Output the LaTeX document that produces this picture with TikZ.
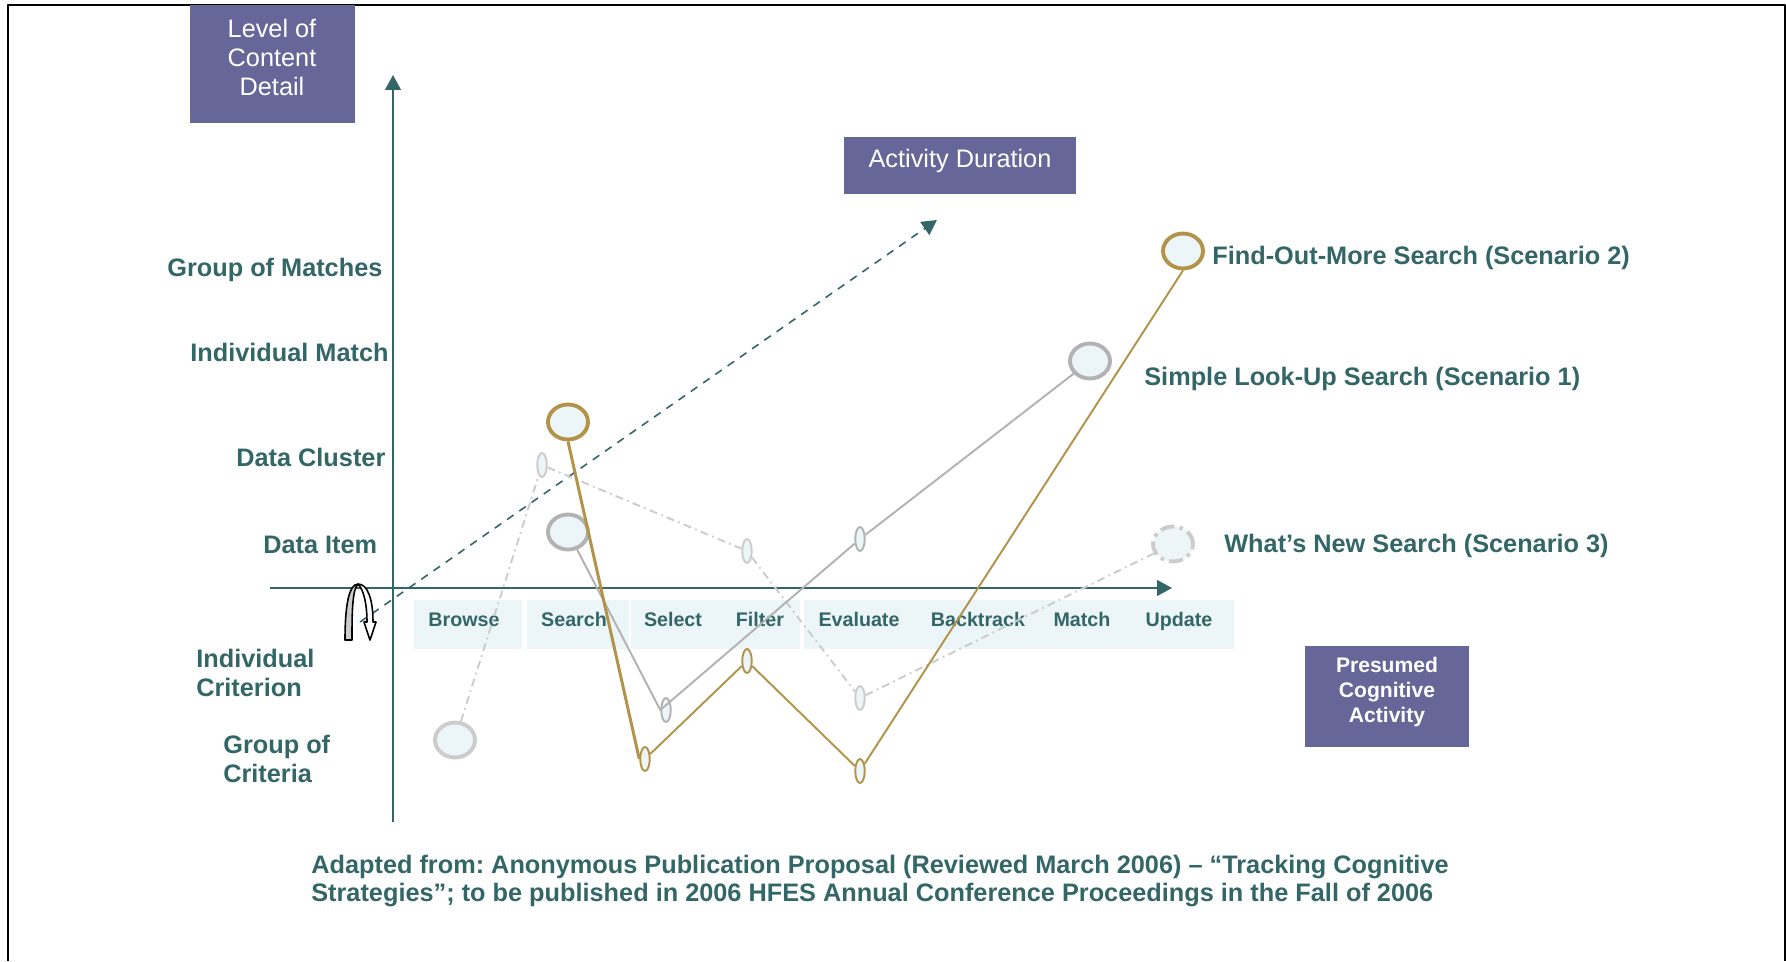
\documentclass[tikz,border=0pt]{standalone}
\usepackage{fontspec}
\setmainfont{Liberation Sans}
\frenchspacing
\usetikzlibrary{arrows.meta,shapes.geometric}
\definecolor{tealc}{HTML}{336666}
\definecolor{purplec}{HTML}{666699}
\definecolor{goldc}{HTML}{B2934A}
\definecolor{grayc}{HTML}{B2B2B2}
\definecolor{lightc}{HTML}{CCCCCC}
\definecolor{paleb}{HTML}{ECF5F7}
\tikzset{
	axislabel/.style={text=tealc,font=\fontsize{14.4}{16.5}\selectfont\bfseries,align=left,anchor=west,inner sep=0pt},
	steplabel/.style={text=tealc,font=\fontsize{11.2}{13}\selectfont\bfseries,inner sep=0pt,text height=0.72em,text depth=0.21em},
	boxlabel/.style={text=white,font=\fontsize{14.4}{16.5}\selectfont,align=center,inner sep=0pt},
	bigdot/.style={ellipse,fill=paleb,line width=2.2pt,minimum width=0.8cm,minimum height=0.7cm,inner sep=0pt},
	smalldot/.style={ellipse,fill=paleb,line width=1.1pt,minimum width=0.19cm,minimum height=0.48cm,inner sep=0pt},
	lightline/.style={lightc,line width=1.1pt,dash pattern=on 4.5pt off 2.5pt on 1pt off 2.5pt}
}
\begin{document}
\begin{tikzpicture}[x=0.02cm,y=-0.02cm,>={Triangle[length=8.5pt,width=9pt]},line join=round]
	\def\yaxis{393} \def\xaxis{588} \def\ystep{622}
	\useasboundingbox (0,0) rectangle (1786,961);
	% khung
	\draw[black,line width=1.2pt] (8,961)--(8,5)--(1785,5)--(1785,961);
	% hop tieu de
	\fill[purplec] (190,5) rectangle (355,123);
	\fill[purplec] (844,137) rectangle (1076,194);
	\fill[purplec] (1305,646) rectangle (1469,747);
	\node[boxlabel] (level) at (272,57) {Level of\\Content\\Detail};
	\node[boxlabel] (duration) at (960,161) {Activity Duration};
	\node[boxlabel,font=\fontsize{12}{14.2}\selectfont\bfseries] (presumed) at (1387,692) {Presumed\\Cognitive\\Activity};
	% dai cac buoc
	\fill[paleb] (414,600) rectangle (522,649);
	\fill[paleb] (527,600) rectangle (629,649);
	\fill[paleb] (631,600) rectangle (800,649);
	\fill[paleb] (804,600) rectangle (1234,649);
	\foreach \name/\x in {Browse/464,Search/574,Select/673,Filter/760,Evaluate/859,Backtrack/978,Match/1082,Update/1179}
		\node[steplabel] (\name) at (\x,\ystep) {\name};
	% truc
	\coordinate (xs) at (270,\xaxis); \coordinate (xe) at (1172,\xaxis);
	\coordinate (ys) at (\yaxis,822); \coordinate (ye) at (\yaxis,75);
	\coordinate (ds) at (360,622); \coordinate (de) at (937,220);
	\draw[tealc,line width=1pt,->] (xs)--(xe);
	\draw[tealc,line width=1pt,->] (ys)--(ye);
	\draw[tealc,line width=0.9pt,dash pattern=on 4.5pt off 4pt,->] (ds)--(de);
	% nhan truc
	\node[axislabel] (matches) at (167,270) {Group of Matches};
	\node[axislabel] (match) at (190,352) {Individual Match};
	\node[axislabel] (cluster) at (236,457) {Data Cluster};
	\node[axislabel] (item) at (263,545) {Data Item};
	\node[axislabel] (criterion) at (196,673) {Individual\\Criterion};
	\node[axislabel] (criteria) at (223,759) {Group of\\Criteria};
	\node[axislabel] (scenb) at (1212,258) {Find-Out-More Search (Scenario 2)};
	\node[axislabel] (scena) at (1144,379) {Simple Look-Up Search (Scenario 1)};
	\node[axislabel] (scenc) at (1224,546) {What’s New Search (Scenario 3)};
	\node[axislabel] (source) at (311,881) {Adapted from: Anonymous Publication Proposal (Reviewed March 2006) – “Tracking Cognitive\\Strategies”; to be published in 2006 HFES Annual Conference Proceedings in the Fall of 2006};
	% mui ten vong
	\draw[black,fill=lightc,line width=0.9pt] (345,640)..controls (345,610) and (348,584)..(358,584)
		..controls (352,590) and (352,615)..(352,640)--cycle;
	\draw[black,fill=white,line width=0.9pt] (358,584)..controls (368,584) and (373,600)..(373,622)
		--(376,622)--(370,640)--(364,622)--(367,622)..controls (367,605) and (364,590)..(358,584)--cycle;
	% ellipse
	\node[smalldot,draw=lightc] (l2) at (542,465) {};
	\node[smalldot,draw=lightc] (l3) at (747,551) {};
	\node[smalldot,draw=lightc] (l4) at (860,698) {};
	\node[bigdot,draw=lightc] (l1) at (455,740) {};
	\node[bigdot,draw=lightc,dash pattern=on 8pt off 3pt on 2pt off 3pt] (l5) at (1173,544) {};
	\node[bigdot,draw=grayc] (g1) at (568,532) {};
	\node[smalldot,draw=grayc] (g2) at (666,710) {};
	\node[smalldot,draw=grayc] (g3) at (860,539) {};
	\node[bigdot,draw=grayc] (g4) at (1090,361) {};
	\node[bigdot,draw=goldc] (y1) at (568,422) {};
	\node[smalldot,draw=goldc] (y2) at (645,759) {};
	\node[smalldot,draw=goldc] (y3) at (747,661) {};
	\node[smalldot,draw=goldc] (y4) at (860,771) {};
	\node[bigdot,draw=goldc] (y5) at (1183,251) {};
	% duong kich ban
	\draw[lightline] (l1)--(l2)--(l3)--(l4)--(l5);
	\draw[grayc,line width=1.1pt] (g1)--(g2.west)--(g3)--(g4);
	\draw[goldc,line width=1.7pt] (y1.south)--(y2.west);
	\draw[goldc,line width=1.1pt] (y2)--(y3)--(y4)--(y5.south);
\end{tikzpicture}
\end{document}
